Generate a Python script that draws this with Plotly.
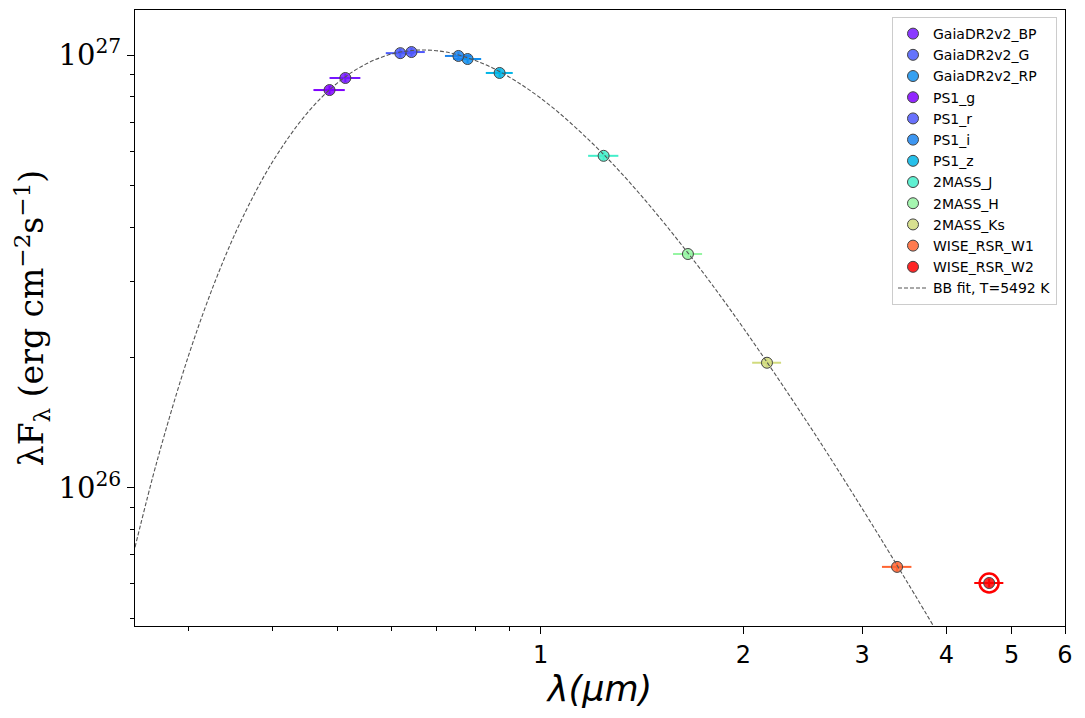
import plotly.graph_objects as go

# ---- data ----
bands = ["GaiaDR2v2_BP", "GaiaDR2v2_G", "GaiaDR2v2_RP", "PS1_g", "PS1_r", "PS1_i", "PS1_z",
         "2MASS_J", "2MASS_H", "2MASS_Ks", "WISE_RSR_W1", "WISE_RSR_W2"]
wavelength = [0.513, 0.619, 0.779, 0.486, 0.643, 0.755, 0.869, 1.24, 1.654, 2.167, 3.38, 4.63]
wave_err = [0.027, 0.030, 0.037, 0.026, 0.030, 0.034, 0.040, 0.064, 0.082, 0.107, 0.17, 0.23]
flux = [8.85e26, 1.010e27, 9.79e26, 8.30e26, 1.016e27, 9.95e26, 9.09e26,
        5.85e26, 3.47e26, 1.946e26, 6.57e25, 6.03e25]
flux_err = [2.0e25, 2.3e25, 2.2e25, 1.9e25, 2.3e25, 2.2e25, 2.0e25,
            1.3e25, 0.8e25, 0.45e25, 0.15e25, 0.14e25]

outlier_wave = [4.63]
outlier_flux = [6.03e25]

bb_wave = [0.25, 0.27, 0.30, 0.33, 0.36, 0.40, 0.45, 0.50, 0.55, 0.60, 0.65, 0.668, 0.70,
           0.75, 0.85, 1.0, 1.2, 1.4, 1.7, 2.0, 2.5, 3.0, 3.5, 4.0]
bb_flux = [7.29e25, 1.164e26, 2.015e26, 3.046e26, 4.169e26, 5.666e26, 7.335e26, 8.634e26,
           9.527e26, 1.0047e27, 1.0257e27, 1.027e27, 1.0232e27, 1.0034e27, 9.322e26,
           7.950e26, 6.199e26, 4.794e26, 3.303e26, 2.338e26, 1.3994e26, 8.961e25,
           6.056e25, 4.275e25]
bb_label = "BB fit, T=5492 K"

x_tick_vals = [1, 2, 3, 4, 5, 6]
x_tick_text = ["1", "2", "3", "4", "5", "6"]
x_minor_vals = [0.3, 0.4, 0.5, 0.6, 0.7, 0.8, 0.9]
y_tick_vals = [1e26, 1e27]
y_tick_text = ["10<sup>26</sup>", "10<sup>27</sup>"]
y_minor_vals = [5e25, 6e25, 7e25, 8e25, 9e25, 2e26, 3e26, 4e26, 5e26, 6e26, 7e26, 8e26, 9e26]

# ---- styles ----
bar_colors = ["#7616ff", "#4a5cfb", "#128fee", "#7f00ff", "#4f58fb", "#1b84ee", "#00b5e6",
              "#43eeca", "#95f5a2", "#d1db7d", "#ff6431", "#ff0000"]


def rgba(hexc, a):
    h = hexc.lstrip("#")
    r, g, b = int(h[0:2], 16), int(h[2:4], 16), int(h[4:6], 16)
    return f"rgba({r},{g},{b},{a})"


fig = go.Figure()

for i, name in enumerate(bands):
    c = bar_colors[i]
    fig.add_trace(go.Scatter(
        x=[wavelength[i]], y=[flux[i]], mode="markers", name=name,
        marker=dict(size=11, color=rgba(c, 0.85), line=dict(color="#444444", width=1)),
        error_x=dict(type="data", array=[wave_err[i]], color=c, thickness=2, width=0),
        error_y=dict(type="data", array=[flux_err[i]], color=c, thickness=2, width=0),
    ))

fig.add_trace(go.Scatter(
    x=outlier_wave, y=outlier_flux, mode="markers", showlegend=False,
    marker=dict(symbol="circle-open", size=19, color="#ff0000", line=dict(width=2.5, color="#ff0000")),
))

fig.add_trace(go.Scatter(
    x=bb_wave, y=bb_flux, mode="lines", name=bb_label,
    line=dict(color="#555555", width=1.1, dash="4px,2px", shape="spline"),
))

axis_common = dict(showline=True, linecolor="black", linewidth=1, mirror=True,
                   showgrid=False, zeroline=False, ticks="outside", tickcolor="black")

fig.update_layout(
    width=1085, height=718,
    margin=dict(l=135, r=20, t=10, b=92),
    paper_bgcolor="white", plot_bgcolor="white",
    xaxis=dict(type="log", range=[-0.60206, 0.77815], tickmode="array",
               tickvals=x_tick_vals, ticktext=x_tick_text, ticklen=7, tickwidth=1,
               tickfont=dict(family="DejaVu Sans", size=24, color="black"),
               minor=dict(tickmode="array", tickvals=x_minor_vals, ticks="outside",
                          ticklen=4, tickcolor="black"),
               title=dict(text="<i>λ(μm)</i>", font=dict(family="DejaVu Sans", size=35, color="black"),
                          standoff=4),
               **axis_common),
    yaxis=dict(type="log", range=[25.681, 27.104], tickmode="array",
               tickvals=y_tick_vals, ticktext=y_tick_text, ticklen=7, tickwidth=1,
               tickfont=dict(family="DejaVu Serif", size=29, color="black"),
               minor=dict(tickmode="array", tickvals=y_minor_vals, ticks="outside",
                          ticklen=4, tickcolor="black"),
               title=dict(text="λF<sub>λ</sub> (erg cm<sup>−2</sup>s<sup>−1</sup>)",
                          font=dict(family="DejaVu Serif", size=33, color="black"),
                          standoff=4),
               **axis_common),
    legend=dict(x=0.9914, y=0.9886, xanchor="right", yanchor="top",
                bgcolor="white", bordercolor="#cccccc", borderwidth=1,
                font=dict(family="DejaVu Sans", size=14, color="black"),
                itemwidth=30, tracegroupgap=0),
    showlegend=True,
)

fig.write_html("out.html")
